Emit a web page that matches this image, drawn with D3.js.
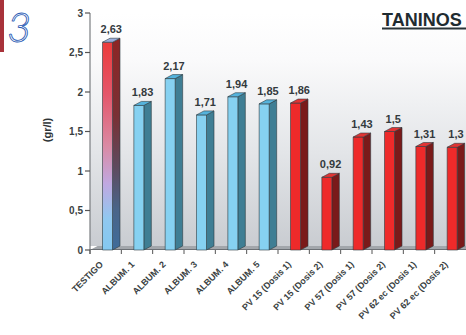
<!DOCTYPE html>
<html>
<head>
<meta charset="utf-8">
<script src="https://cdn.jsdelivr.net/npm/d3@7"></script>
<style>
  html, body { margin: 0; padding: 0; background: #ffffff; }
  svg { display: block; }
</style>
</head>
<body>
<svg id="chart" width="466" height="335"></svg>
<script>
// Tannin content per sample (gr/l)
const categories = [
  "TESTIGO", "ALBUM. 1", "ALBUM. 2", "ALBUM. 3", "ALBUM. 4", "ALBUM. 5",
  "PV 15 (Dosis 1)", "PV 15 (Dosis 2)", "PV 57 (Dosis 1)", "PV 57 (Dosis 2)",
  "PV 62 ec (Dosis 1)", "PV 62 ec (Dosis 2)"
];
const values = [2.63, 1.83, 2.17, 1.71, 1.94, 1.85, 1.86, 0.92, 1.43, 1.5, 1.31, 1.3];
const groups = ["testigo", "album", "album", "album", "album", "album",
                "pv", "pv", "pv", "pv", "pv", "pv"];
const yTicks = [0, 0.5, 1, 1.5, 2, 2.5, 3];
const yTickLabels = ["0", "0,5", "1", "1,5", "2", "2,5", "3"];
const titleText = "TANINOS";
const yAxisTitle = "(gr/l)";
const sectionNumber = "3";

const svg = d3.select("#chart");
const FONT = "Liberation Sans, Arial, sans-serif";

const plot = { left: 90, right: 466, top: 13, bottom: 250 };
const depthX = 7.5, depthY = 4;

const x = d3.scaleBand().domain(categories).range([plot.left, plot.right]).padding(0);
const y = d3.scaleLinear().domain([0, 3]).range([plot.bottom, plot.top]);

const defs = svg.append("defs");

// back wall gradient
const wallGrad = defs.append("linearGradient").attr("id", "wall")
  .attr("x1", 0).attr("y1", 0).attr("x2", 0).attr("y2", 1);
[[0, "#ffffff"], [0.2, "#fafafb"], [0.6, "#e3e5e8"], [1, "#c9ccd1"]]
  .forEach(([o, c]) => wallGrad.append("stop").attr("offset", o).attr("stop-color", c));

// blended front / side fills for the control bar
const mixFront = defs.append("linearGradient").attr("id", "mixFront")
  .attr("gradientUnits", "userSpaceOnUse")
  .attr("x1", 0).attr("y1", y(values[0])).attr("x2", 0).attr("y2", plot.bottom);
[[0, "#ec3b3b"], [0.25, "#e4566a"], [0.5, "#da8aa4"], [0.68, "#c0a8e0"], [0.85, "#90c8f0"], [1, "#84c8f0"]]
  .forEach(([o, c]) => mixFront.append("stop").attr("offset", o).attr("stop-color", c));
const mixSide = defs.append("linearGradient").attr("id", "mixSide")
  .attr("gradientUnits", "userSpaceOnUse")
  .attr("x1", 0).attr("y1", y(values[0])).attr("x2", 0).attr("y2", plot.bottom);
[[0, "#8c2626"], [0.35, "#7a3034"], [0.6, "#5e4a5e"], [0.8, "#4a6488"], [1, "#3f6c9a"]]
  .forEach(([o, c]) => mixSide.append("stop").attr("offset", o).attr("stop-color", c));

const palette = {
  testigo: { front: "url(#mixFront)", side: "url(#mixSide)", top: "#9aaedc" },
  album:   { front: "#86d1f1", side: "#3f7e94", top: "#55b3dc" },
  pv:      { front: "#ee2a2a", side: "#7a1a1a", top: "#e03434" }
};

// wall
svg.append("rect")
  .attr("x", plot.left).attr("y", plot.top)
  .attr("width", plot.right - plot.left).attr("height", plot.bottom - depthY - plot.top)
  .attr("fill", "url(#wall)");

// floor
svg.append("path")
  .attr("d", `M${plot.left},${plot.bottom} L${plot.left + depthX},${plot.bottom - depthY} L${plot.right},${plot.bottom - depthY} L${plot.right},${plot.bottom} Z`)
  .attr("fill", "#a2a6ab");
svg.append("line")
  .attr("x1", plot.left).attr("x2", plot.right)
  .attr("y1", plot.bottom - 0.5).attr("y2", plot.bottom - 0.5)
  .attr("stroke", "#6c7075").attr("stroke-width", 1.2);

// bars
const barW = 10, barOff = 12.5;
const bars = svg.append("g");
categories.forEach((c, i) => {
  const v = values[i];
  const p = palette[groups[i]];
  const x0 = x(c) + barOff, x1 = x0 + barW, yt = y(v), yb = plot.bottom;
  const g = bars.append("g").attr("stroke", "#2d3a40").attr("stroke-width", 0.6).attr("stroke-linejoin", "round");
  g.append("path")
    .attr("d", `M${x1},${yt} L${x1 + depthX},${yt - depthY} L${x1 + depthX},${yb - depthY} L${x1},${yb} Z`)
    .attr("fill", p.side);
  g.append("rect")
    .attr("x", x0).attr("y", yt).attr("width", barW).attr("height", yb - yt)
    .attr("fill", p.front);
  g.append("path")
    .attr("d", `M${x0},${yt} L${x0 + depthX},${yt - depthY} L${x1 + depthX},${yt - depthY} L${x1},${yt} Z`)
    .attr("fill", p.top);
});

// value labels
svg.append("g").selectAll("text").data(categories).join("text")
  .attr("x", (c) => x(c) + barOff + (barW + depthX) / 2)
  .attr("y", (c, i) => y(values[i]) - 9)
  .attr("text-anchor", "middle")
  .attr("font-family", FONT).attr("font-weight", "bold").attr("font-size", 11)
  .attr("fill", "#333a3d")
  .text((c, i) => String(values[i]).replace(".", ","));

// y axis
const yAxis = svg.append("g");
yAxis.append("line")
  .attr("x1", plot.left).attr("x2", plot.left)
  .attr("y1", plot.top).attr("y2", plot.bottom + 4)
  .attr("stroke", "#7a7d80").attr("stroke-width", 1.2);
yTicks.forEach((t, i) => {
  yAxis.append("line")
    .attr("x1", plot.left - 5).attr("x2", plot.left)
    .attr("y1", y(t)).attr("y2", y(t))
    .attr("stroke", "#555").attr("stroke-width", 1.2);
  yAxis.append("text")
    .attr("x", plot.left - 7).attr("y", y(t)).attr("dy", "0.35em")
    .attr("text-anchor", "end")
    .attr("font-family", FONT).attr("font-weight", "bold").attr("font-size", 10)
    .attr("fill", "#3a3f42")
    .text(yTickLabels[i]);
});

// x axis ticks at category boundaries
const xAxis = svg.append("g");
categories.forEach((c) => {
  xAxis.append("line")
    .attr("x1", x(c)).attr("x2", x(c))
    .attr("y1", plot.bottom).attr("y2", plot.bottom + 4)
    .attr("stroke", "#555").attr("stroke-width", 1);
});
xAxis.selectAll("text").data(categories).join("text")
  .attr("transform", (c) => `translate(${x(c) + x.bandwidth() / 2 - 2},${plot.bottom + 15}) rotate(-45)`)
  .attr("text-anchor", "end")
  .attr("font-family", FONT).attr("font-weight", "bold").attr("font-size", 9)
  .attr("fill", "#3a3f42")
  .text((c) => c);

// y axis title
svg.append("text")
  .attr("transform", "translate(51,130) rotate(-90)")
  .attr("text-anchor", "middle")
  .attr("font-family", FONT).attr("font-weight", "bold").attr("font-size", 11)
  .attr("fill", "#2e3437")
  .text(yAxisTitle);

// title
svg.append("text")
  .attr("x", 382).attr("y", 26)
  .attr("font-family", FONT).attr("font-weight", "bold").attr("font-size", 18)
  .attr("fill", "#1f2b30")
  .text(titleText);
svg.append("rect")
  .attr("x", 382).attr("y", 27.5).attr("width", 84).attr("height", 2)
  .attr("fill", "#2a3438");

// section marker
svg.append("rect").attr("x", 0).attr("y", 0).attr("width", 4).attr("height", 52).attr("fill", "#a8323a");
svg.append("text")
  .attr("x", 7).attr("y", 42)
  .attr("font-family", "Lato, sans-serif").attr("font-style", "italic").attr("font-weight", 300).attr("font-size", 42)
  .attr("fill", "#ffffff").attr("stroke", "#2b5cb5").attr("stroke-width", 0.9)
  .text(sectionNumber);
</script>
</body>
</html>
